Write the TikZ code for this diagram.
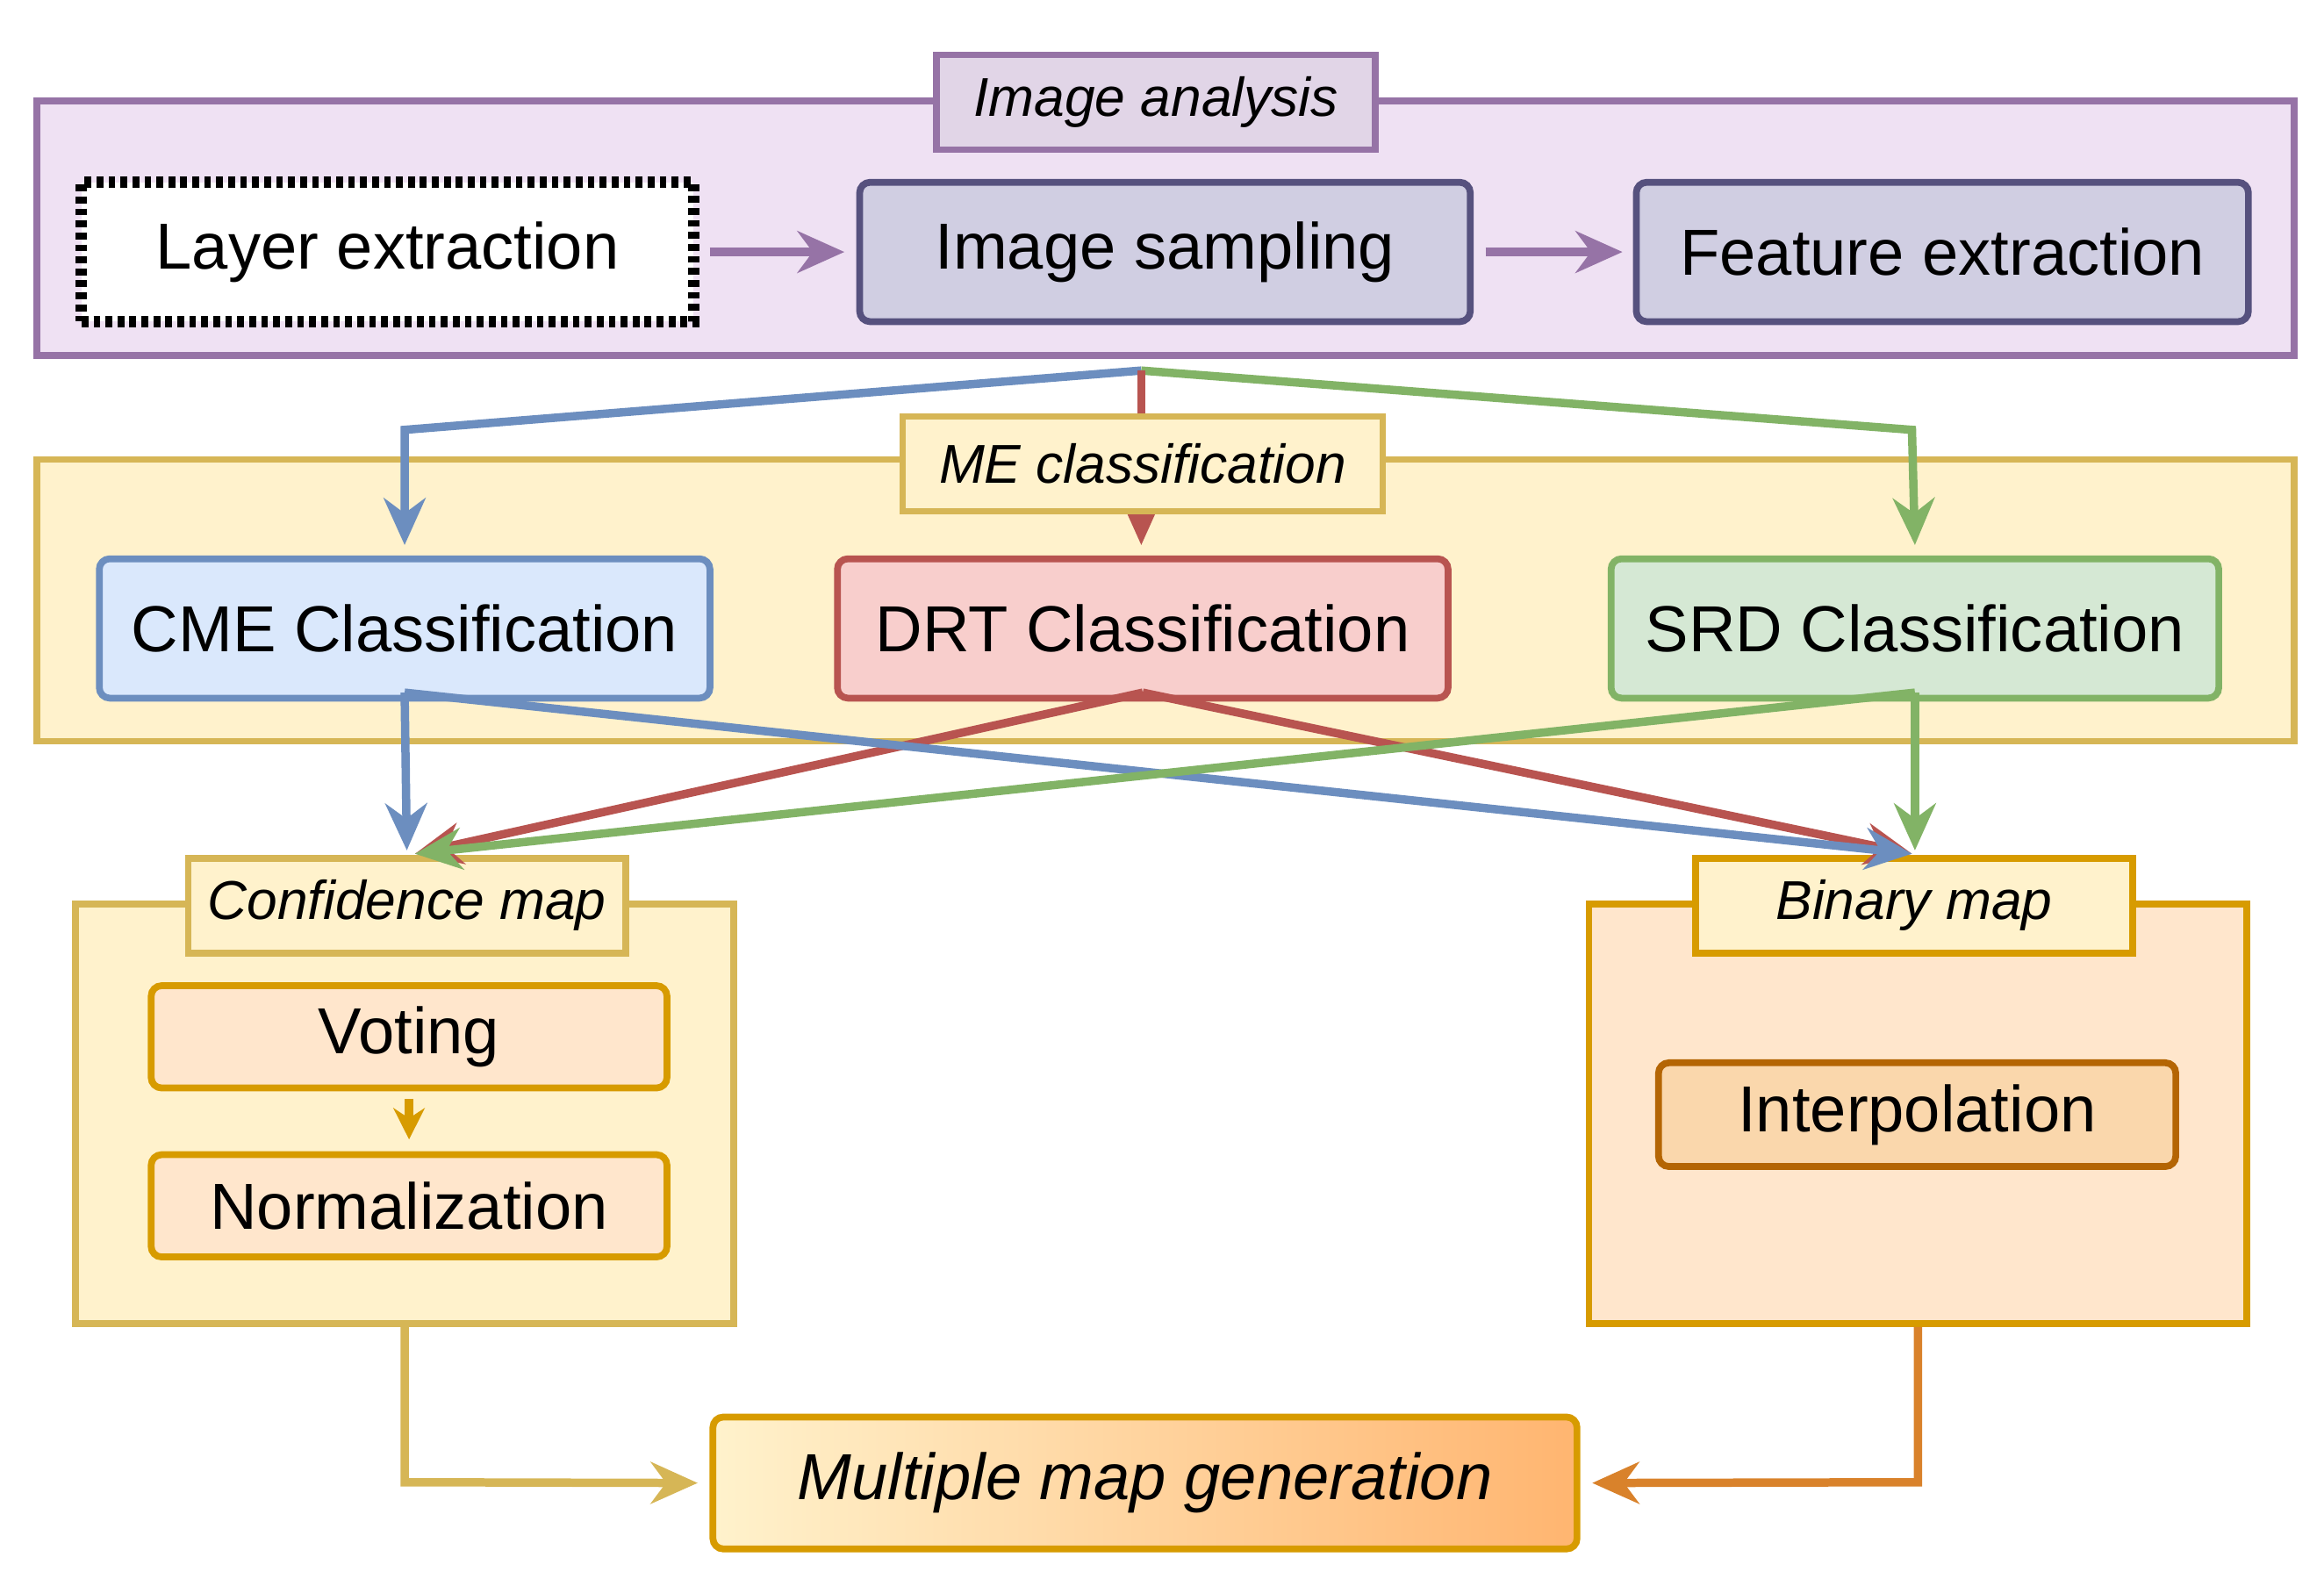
\documentclass[tikz,border=0pt]{standalone}
\usepackage{fontspec}
\setmainfont{Liberation Sans}
\usetikzlibrary{arrows.meta}
\definecolor{pO}{HTML}{EFE1F3}\definecolor{pB}{HTML}{9673A6}\definecolor{pT}{HTML}{E1D5E7}
\definecolor{sF}{HTML}{D0CEE2}\definecolor{sB}{HTML}{56517E}
\definecolor{yF}{HTML}{FFF2CC}\definecolor{yB}{HTML}{D6B656}
\definecolor{bF}{HTML}{DAE8FC}\definecolor{bB}{HTML}{6C8EBF}
\definecolor{rF}{HTML}{F8CECC}\definecolor{rB}{HTML}{B85450}
\definecolor{gF}{HTML}{D5E8D4}\definecolor{gB}{HTML}{82B366}
\definecolor{oF}{HTML}{FFE6CC}\definecolor{oB}{HTML}{D79B00}
\definecolor{iF}{HTML}{FAD7AC}\definecolor{iB}{HTML}{B46504}
\definecolor{mR}{HTML}{FFB570}\definecolor{aO}{HTML}{D9822B}
\begin{document}
\begin{tikzpicture}[x=0.1mm,y=-0.1mm,
 box/.style={draw,line width=1.3pt,rounded corners=2pt,inner sep=0pt,font=\fontsize{12.5}{14}\selectfont},
 ttl/.style={draw,line width=1.3pt,inner sep=0pt,font=\fontsize{10.5}{12}\selectfont\itshape},
 ar/.style={line width=1.6pt,-{Stealth[length=9pt,width=8pt]}}]
\useasboundingbox (0,0) rectangle (1568,1065);
% image analysis
\node[draw=pB,fill=pO,line width=1.3pt,minimum width=152.3mm,minimum height=17.2mm,inner sep=0] (ia) at (786.5,154) {};
\node[ttl,draw=pB,fill=pT,minimum width=29.6mm,minimum height=6.4mm] (iat) at (780,69) {Image analysis};
\node[box,draw=black,densely dotted,line width=2.2pt,fill=white,rounded corners=0,minimum width=41.3mm,minimum height=9.4mm] (le) at (261.5,170) {Layer extraction};
\node[box,draw=sB,fill=sF,minimum width=41.2mm,minimum height=9.4mm] (is) at (786,170) {Image sampling};
\node[box,draw=sB,fill=sF,minimum width=41.3mm,minimum height=9.4mm] (fe) at (1310.5,170) {Feature extraction};
\draw[ar,draw=pB] ([xshift=0.7mm]le.east) -- ([xshift=-0.8mm]is.west);
\draw[ar,draw=pB] ([xshift=0.8mm]is.east) -- ([xshift=-0.7mm]fe.west);
% ME classification
\node[draw=yB,fill=yF,line width=1.3pt,minimum width=152.3mm,minimum height=19mm,inner sep=0] (me) at (786.5,405) {};
\node[box,draw=bB,fill=bF,minimum width=41.2mm,minimum height=9.4mm] (cme) at (273,424) {CME Classification};
\node[box,draw=rB,fill=rF,minimum width=41.2mm,minimum height=9.4mm] (drt) at (771,424) {DRT Classification};
\node[box,draw=gB,fill=gF,minimum width=41mm,minimum height=9.4mm] (srd) at (1292,424) {SRD Classification};
\coordinate (sp) at (770,250);
\draw[ar,draw=bB] (sp) -- (273,290) -- ([yshift=0.7mm]cme.north);
\draw[ar,draw=gB] (sp) -- (1290,290) -- ([yshift=0.7mm]srd.north);
\draw[ar,draw=rB] (sp) -- ([yshift=0.7mm]drt.north -| sp);
\node[ttl,draw=yB,fill=yF,minimum width=32.4mm,minimum height=6.4mm] (met) at (771,313) {ME classification};
% lower groups
\node[draw=yB,fill=yF,line width=1.3pt,minimum width=44.4mm,minimum height=28.3mm,inner sep=0] (cm) at (273,751.5) {};
\node[draw=oB,fill=oF,line width=1.3pt,minimum width=44.4mm,minimum height=28.3mm,inner sep=0] (bm) at (1294,751.5) {};
\node[ttl,draw=yB,fill=yF,minimum width=29.5mm,minimum height=6.4mm] (cmt) at (274.5,611) {Confidence map};
\node[ttl,draw=oB,fill=yF,minimum width=29.5mm,minimum height=6.4mm] (bmt) at (1291.5,611) {Binary map};
\node[box,draw=oB,fill=oF,minimum width=34.8mm,minimum height=6.9mm] (vo) at (276,699.5) {Voting};
\node[box,draw=oB,fill=oF,minimum width=34.8mm,minimum height=6.9mm] (no) at (276,813.5) {Normalization};
\node[box,draw=iB,fill=iF,minimum width=34.9mm,minimum height=7mm] (ip) at (1293.5,752) {Interpolation};
\draw[line width=1.6pt,draw=oB,-{Stealth[length=6pt,width=6pt]}] ([yshift=-0.5mm]vo.south) -- ([yshift=0.8mm]no.north);
% classification outputs
\coordinate (cin) at (280,576); \coordinate (bin) at (1290,576);
\draw[ar,draw=rB] ([yshift=0.6mm]drt.south) -- (cin);
\draw[ar,draw=rB] ([yshift=0.6mm]drt.south) -- (bin);
\draw[ar,draw=bB] ([yshift=0.6mm]cme.south) -- ([yshift=0.3mm]cmt.north);
\draw[ar,draw=bB] ([yshift=0.6mm]cme.south) -- (bin);
\draw[ar,draw=gB] ([yshift=0.6mm]srd.south) -- ([yshift=0.3mm]bmt.north -| srd.south);
\draw[ar,draw=gB] ([yshift=0.6mm]srd.south) -- (cin);
% multiple map
\node[box,draw=oB,left color=yF,right color=mR,minimum width=58.3mm,minimum height=8.9mm,font=\fontsize{12.5}{14}\selectfont\itshape] (mm) at (772.5,1000.5) {Multiple map generation};
\draw[ar,draw=yB] (cm.south) -- (273,1000) -- ([xshift=-0.8mm]mm.west);
\draw[ar,draw=aO] (bm.south) -- (1294,1000) -- ([xshift=0.8mm]mm.east);
\end{tikzpicture}
\end{document}
